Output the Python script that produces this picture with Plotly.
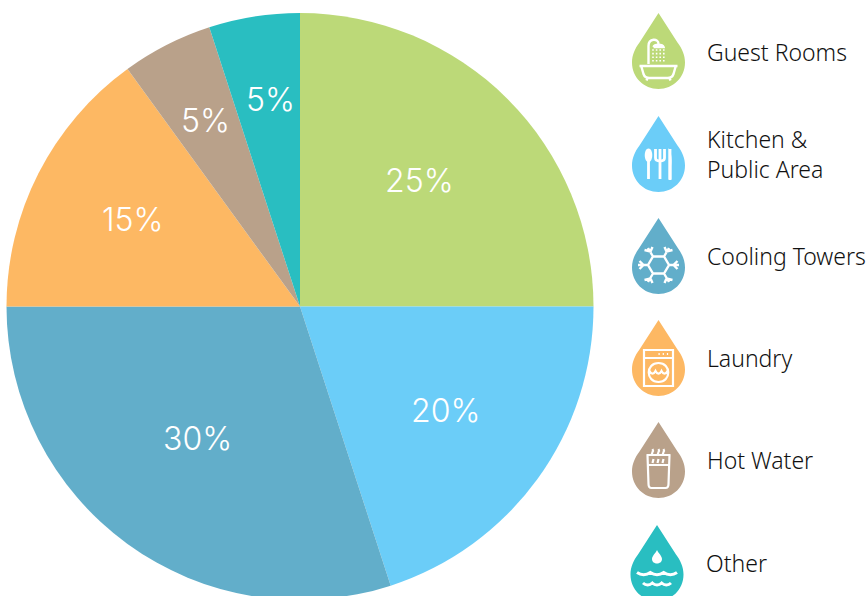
import plotly.graph_objects as go

categories = ["Guest Rooms", "Kitchen &<br>Public Area", "Cooling Towers", "Laundry", "Hot Water", "Other"]
values = [25, 20, 30, 15, 5, 5]
colors = ["#BCD978", "#6BCDF8", "#62AECA", "#FDB863", "#B9A18A", "#29BEC1"]
percent_xs = [419.5, 445.5, 197, 133, 205, 270]
percent_ys = [180, 410.5, 438.5, 219.5, 120.5, 99.5]
drop_tops = [13, 116, 218, 320, 422, 525]
drop_xs = [658.5, 658.5, 658.5, 658.5, 658.5, 657]
label_ys = [52, 154.5, 256, 358, 460, 563]
label_xs = [704.5, 704.5, 704.5, 704.5, 704.5, 703.5]

W, H = 867, 610
CX, CY, R = 300, 306.5, 293.5


def P(x, y):
    return f"{x / W:.5f},{1 - y / H:.5f}"


def path(cmds, ox, oy):
    out = []
    for c in cmds:
        op = c[0]
        if op == "Z":
            out.append("Z")
        else:
            pts = c[1:]
            out.append(op + " ".join(P(ox + pts[i], oy + pts[i + 1]) for i in range(0, len(pts), 2)))
    return " ".join(out)


DROP = [("M", 0, 0), ("L", -19, 29.5), ("C", -23.5, 35.5, -26.5, 42, -26.5, 49.5),
        ("C", -26.5, 64.5, -14.6, 76, 0, 76), ("C", 14.6, 76, 26.5, 64.5, 26.5, 49.5),
        ("C", 26.5, 42, 23.5, 35.5, 19, 29.5), ("Z",)]


def dots(x0, y0, nx, ny, step):
    o = []
    for i in range(nx):
        for j in range(ny):
            x, y = x0 + i * step, y0 + j * step
            o += [("M", x - .8, y), ("L", x + .8, y)]
    return o


def wave(x0, x1, y, n, a=2.2):
    o = [("M", x0, y)]
    s = (x1 - x0) / n
    for i in range(n):
        o.append(("C", x0 + s * i + s * .3, y + a * 1.6, x0 + s * i + s * .7, y + a * 1.6, x0 + s * (i + 1), y))
    return o


ICONS = [
    # bath + shower: strokes, stroke width, dots
    ([("M", -19, 53), ("L", 19, 53), ("M", -17, 54), ("L", -15, 61), ("C", -14, 64, -12, 65, -9, 65),
      ("L", 9, 65), ("C", 12, 65, 14, 64, 15, 61), ("L", 17, 54),
      ("M", -11, 65), ("L", -12, 67.5), ("M", 11, 65), ("L", 12, 67.5),
      ("M", -10, 51), ("L", -10, 33), ("C", -10, 25, 0, 25, 0, 31),
      ("M", -5, 34), ("L", 5, 34), ("C", 4, 31, -4, 31, -5, 34)], 2.4, dots(-5.5, 37, 4, 4, 3.6), 1.6),
    # spoon, fork, knife
    ([("M", -10, 44), ("L", -10, 63), ("M", 1.5, 34), ("L", 1.5, 63), ("M", 11.5, 33), ("L", 11.5, 63),
      ("M", -3, 33), ("L", -3, 42), ("C", -3, 46, 6, 46, 6, 42), ("L", 6, 33),
      ("M", 1.5, 33), ("L", 1.5, 42)], 2.8, [], 0),
    # snowflake
    ([("M", -10.5, 47), ("L", -5.5, 38.5), ("L", 5.5, 38.5), ("L", 10.5, 47), ("L", 5.5, 55.5), ("L", -5.5, 55.5), ("Z",),
      ("M", -20.5, 47), ("L", -10.5, 47), ("M", 20.5, 47), ("L", 10.5, 47),
      ("M", -10.5, 30), ("L", -5.5, 38.5), ("M", 10.5, 30), ("L", 5.5, 38.5),
      ("M", -10.5, 64), ("L", -5.5, 55.5), ("M", 10.5, 64), ("L", 5.5, 55.5),
      ("M", -19, 43), ("L", -15, 47), ("L", -19, 51), ("M", 19, 43), ("L", 15, 47), ("L", 19, 51),
      ("M", -14, 32), ("L", -8, 33.5), ("L", -6, 29), ("M", 14, 32), ("L", 8, 33.5), ("L", 6, 29),
      ("M", -14, 62), ("L", -8, 60.5), ("L", -6, 65), ("M", 14, 62), ("L", 8, 60.5), ("L", 6, 65)], 2.4, [], 0),
    # washing machine
    ([("M", -14.5, 30), ("L", 14.5, 30), ("L", 14.5, 66), ("L", -14.5, 66), ("Z",),
      ("M", -14.5, 38), ("L", 14.5, 38),
      ("M", 0, 43), ("C", -13, 43, -13, 62, 0, 62), ("C", 13, 62, 13, 43, 0, 43), ("Z",)]
     + wave(-9, 9, 51, 3), 2.2, [("M", 0, 34), ("L", 1.2, 34), ("M", 4.2, 34), ("L", 5.4, 34), ("M", 8.4, 34), ("L", 9.6, 34)], 2),
    # hot glass
    ([("M", -12, 33), ("L", 12, 33), ("M", -11, 33), ("L", -10, 62), ("C", -10, 65, -9, 66, -7, 66), ("L", 7, 66),
      ("C", 9, 66, 10, 65, 10, 62), ("L", 11, 33), ("M", -10, 43), ("L", 10, 43),
      ("M", -6, 33), ("C", -8, 30, -4, 30, -6, 27), ("M", 0, 33), ("C", -2, 30, 2, 30, 0, 27),
      ("M", 5, 33), ("C", 3, 30, 7, 30, 5, 27),
      ("M", -6, 41), ("L", -5, 37), ("M", -1, 41), ("L", 0, 37), ("M", 4, 41), ("L", 5, 37)], 2.2, [], 0),
    # water drop and waves
    (wave(-20, 20, 47.5, 3, 1.8) + wave(-14, 14, 58, 3, 1.6), 3, [], 0),
]

FILLED = [
    (1, [("M", -10, 32.5), ("C", -15, 32.5, -15, 46, -10, 46), ("C", -5, 46, -5, 32.5, -10, 32.5), ("Z",)]),
    (1, [("M", 10, 64), ("L", 10, 32), ("C", 13.5, 37, 13.5, 45, 13, 50), ("L", 13, 64), ("Z",)]),
    (5, [("M", 0, 25), ("C", -2, 29, -5, 31, -5, 34), ("C", -5, 40, 5, 40, 5, 34), ("C", 5, 31, 2, 29, 0, 25), ("Z",)]),
]

shapes = []
for i in range(6):
    ox, oy = drop_xs[i], drop_tops[i]
    strokes, sw, extra, ew = ICONS[i]
    shapes.append(dict(type="path", xref="paper", yref="paper", path=path(DROP, ox, oy),
                       fillcolor=colors[i], line=dict(width=0)))
    shapes.append(dict(type="path", xref="paper", yref="paper", path=path(strokes, ox, oy),
                       line=dict(color="white", width=sw)))
    if extra:
        shapes.append(dict(type="path", xref="paper", yref="paper", path=path(extra, ox, oy),
                           line=dict(color="white", width=ew)))
for i, cmds in FILLED:
    shapes.append(dict(type="path", xref="paper", yref="paper", path=path(cmds, drop_xs[i], drop_tops[i]),
                       fillcolor="white", line=dict(width=0)))

fig = go.Figure(go.Pie(
    labels=[c.replace("<br>", " ") for c in categories], values=values, sort=False, direction="clockwise", rotation=0,
    marker=dict(colors=colors, line=dict(width=0)), textinfo="none",
    domain=dict(x=[(CX - R) / W, (CX + R) / W], y=[1 - (CY + R) / H, 1 - (CY - R) / H]),
    showlegend=False, hoverinfo="label+percent",
))

for v, x, y in zip(values, percent_xs, percent_ys):
    fig.add_annotation(text=f"{v}%", xref="paper", yref="paper", x=x / W, y=1 - y / H, xanchor="center", yanchor="middle",
                       showarrow=False, font=dict(family="Inter", size=32, color="white", weight=300))

for name, x, y in zip(categories, label_xs, label_ys):
    fig.add_annotation(text=name, xref="paper", yref="paper", x=x / W, y=1 - y / H, xanchor="left", yanchor="middle",
                       align="left", showarrow=False, font=dict(family="Noto Sans", size=23, color="#111111", weight=300))

fig.update_layout(width=W, height=H, margin=dict(l=0, r=0, t=0, b=0), paper_bgcolor="white",
                  shapes=shapes, showlegend=False)
fig.write_html("out.html", config={"displayModeBar": False},
               post_script="document.body.style.margin='0';document.documentElement.style.overflow='hidden';")
